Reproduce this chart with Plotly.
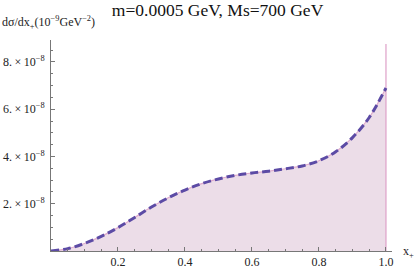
import plotly.graph_objects as go

# data (y in units of 1e-8 GeV^-2)
x_vals = [0, 0.05, 0.1, 0.15, 0.2, 0.25, 0.3, 0.35, 0.4, 0.45, 0.5, 0.55, 0.6,
          0.65, 0.7, 0.75, 0.8, 0.85, 0.9, 0.95, 1.0]
y_vals = [0, 0.1, 0.32, 0.62, 0.99, 1.42, 1.86, 2.25, 2.58, 2.85, 3.05, 3.2, 3.3,
          3.38, 3.48, 3.6, 3.82, 4.2, 4.8, 5.65, 6.9]
spike_x = [1.0, 1.0]
spike_y = [0, 8.76]
ytick_vals = [2, 4, 6, 8]
ytick_text = ["2.\u2009\u00d7\u200910<sup>\u22128</sup>", "4.\u2009\u00d7\u200910<sup>\u22128</sup>",
              "6.\u2009\u00d7\u200910<sup>\u22128</sup>", "8.\u2009\u00d7\u200910<sup>\u22128</sup>"]
xtick_vals = [0.2, 0.4, 0.6, 0.8, 1.0]
xtick_text = ["0.2", "0.4", "0.6", "0.8", "1.0"]

FONT = "Liberation Serif"
AXC = "#777777"

fig = go.Figure()
fig.add_trace(go.Scatter(x=x_vals, y=y_vals, mode="lines", line_shape="spline",
                         fill="tozeroy", fillcolor="rgb(236,221,232)",
                         line=dict(color="rgb(222,170,205)", width=1.2),
                         hoverinfo="skip", showlegend=False))
fig.add_trace(go.Scatter(x=spike_x, y=spike_y, mode="lines",
                         line=dict(color="rgb(222,160,200)", width=1.2),
                         showlegend=False))
fig.add_trace(go.Scatter(x=x_vals, y=y_vals, mode="lines", line_shape="spline",
                         line=dict(color="rgb(92,75,165)", width=3, dash="8px,4px"),
                         showlegend=False))

fig.update_layout(
    width=416, height=266,
    margin=dict(l=51, r=24, t=40, b=15, autoexpand=False),
    paper_bgcolor="white", plot_bgcolor="white",
    font=dict(family=FONT, size=12, color="#222"),
    title=dict(text="m=0.0005 GeV, Ms=700 GeV", x=0.523, xanchor="center",
               y=0.962, yanchor="middle", font=dict(family=FONT, size=17.5, color="#111")),
    xaxis=dict(range=[0, 1.018], showgrid=False, zeroline=False, automargin=False,
               showline=True, linecolor=AXC, linewidth=1,
               ticks="inside", ticklen=4, tickcolor=AXC,
               tickvals=xtick_vals, ticktext=xtick_text, ticklabelstandoff=0,
               minor=dict(dtick=0.05, tick0=0, ticks="inside", ticklen=2, tickcolor=AXC),
               tickfont=dict(family=FONT, size=12, color="#222")),
    yaxis=dict(range=[0, 8.93], showgrid=False, zeroline=False, automargin=False,
               showline=True, linecolor=AXC, linewidth=1,
               ticks="inside", ticklen=4, tickcolor=AXC,
               tickvals=ytick_vals, ticktext=ytick_text, ticklabelstandoff=3,
               minor=dict(dtick=0.5, tick0=0, ticks="inside", ticklen=2, tickcolor=AXC),
               tickfont=dict(family=FONT, size=12, color="#222")),
    annotations=[
        dict(text="d\u03c3/dx<sub>+</sub>(10<sup>\u22129</sup>GeV<sup>\u22122</sup>)",
             xref="paper", yref="paper", x=-0.1496, y=1.085,
             xanchor="left", yanchor="middle", showarrow=False,
             font=dict(family=FONT, size=12, color="#222")),
        dict(text="x<sub>+</sub>", xref="paper", yref="paper",
             x=1.026, y=0.0, xanchor="left", yanchor="middle", showarrow=False,
             yshift=-1, font=dict(family=FONT, size=12, color="#222")),
    ],
)

fig.write_html("out.html", config={"displayModeBar": False},
               post_script="document.body.style.margin='0';document.body.style.padding='0';")
